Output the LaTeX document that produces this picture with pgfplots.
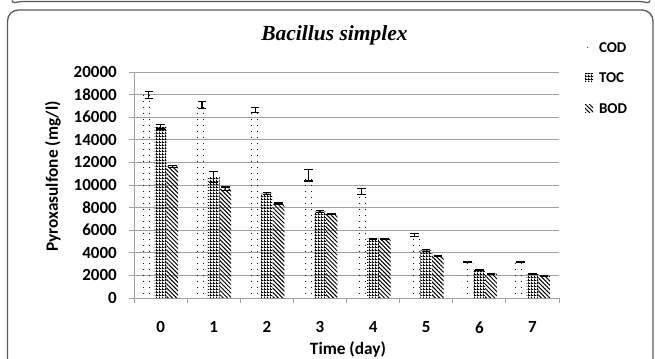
\documentclass[border=0pt]{standalone}
\usepackage{fontspec}
\setmainfont{Carlito}
\newfontfamily\titlefont{Liberation Serif}
\usepackage{pgfplots}
\pgfplotsset{compat=1.18}
\usetikzlibrary{patterns.meta}
\tikzdeclarepattern{name=checker, type=uncolored, bottom left={(0bp,0bp)}, top right={(3bp,3bp)}, tile size={(3bp,3bp)},
  code={\fill (0bp,0bp) rectangle (3bp,1.2bp); \fill (0bp,1.2bp) rectangle (1.2bp,3bp);}}
\definecolor{gridc}{RGB}{160,160,160}
\definecolor{framec}{RGB}{90,90,90}
\begin{document}
\begin{tikzpicture}
\useasboundingbox (-134bp,-61bp) rectangle (521bp,298bp);
\draw[framec, line width=1.3bp, rounded corners=11bp] (-126.5bp,-61bp) -- (-126.5bp,288bp) -- (519bp,288bp) -- (519bp,-61bp);
\draw[framec, line width=1.3bp] (-122bp,297.5bp) to[out=-90,in=180] (-112bp,296.5bp) -- (506bp,296.5bp) to[out=0,in=-90] (516bp,297.5bp);
\begin{axis}[
  at={(0,0)}, anchor=south west,
  scale only axis, width=425bp, height=226bp,
  xmin=-0.5, xmax=7.5, ymin=0, ymax=20000,
  ybar=0pt, bar width=0.22,
  every axis plot post/.append style={legend image code/.code={\fill[#1] (0bp,-4bp) rectangle (8bp,4bp);}},
  xtick={0,...,7}, xticklabels={0,1,2,3,4,5,6,7},
  major x tick style={draw=none},
  minor xtick={-0.5,0.5,...,7.5},
  ytick={0,2000,...,20000}, scaled y ticks=false,
  yticklabels={0,2000,4000,6000,8000,10000,12000,14000,16000,18000,20000},
  tick align=outside, major tick length=5bp, minor tick length=5bp,
  tick style={gridc, line width=0.8bp},
  ymajorgrids, grid style={gridc, line width=0.8bp},
  axis x line*=bottom, axis y line*=left,
  axis line style={gridc, line width=0.8bp, -},
  tick label style={font=\fontsize{17bp}{17bp}\selectfont\bfseries},
  yticklabel style={anchor=east, inner sep=0pt, xshift=-12bp},
  xticklabel style={anchor=north, inner sep=0pt, yshift=-18.5bp},
  xlabel={Time (day)},
  xlabel style={font=\fontsize{17.3bp}{17bp}\selectfont\bfseries, at={(rel axis cs:0.5035,-0.2279)}, anchor=center},
  ylabel={Pyroxasulfone (mg/l)},
  ylabel style={font=\fontsize{17.3bp}{17bp}\selectfont\bfseries, at={(rel axis cs:-0.1906,0.5376)}, anchor=center},
  title={Bacillus simplex},
  title style={font=\titlefont\bfseries\itshape\fontsize{21.5bp}{22bp}\selectfont, at={(rel axis cs:0.4718,1.1150)}, anchor=base, inner sep=0pt},
  legend style={at={(rel axis cs:1.0612,1.1327)}, anchor=north west, draw=none, fill=none, inner sep=0pt, outer sep=0pt,
    row sep=20.5bp, column sep=6bp, font=\fontsize{15bp}{15bp}\selectfont\bfseries,
    nodes={inner sep=0pt, text height=10bp, text depth=0pt}},
  legend cell align=left,
  error bars/y dir=both, error bars/y explicit,
  error bars/error bar style={draw=black, line width=1.2bp},
  error bars/error mark options={draw=black, rotate=90, mark size=4.3bp, line width=1.2bp},
]
\addplot[draw=none, fill=none, pattern={Dots[distance=6bp, radius=0.6bp]}] coordinates {
  (0,17950) +- (0,300)
  (1,17100) +- (0,300)
  (2,16650) +- (0,200)
  (3,10850) +- (0,500)
  (4,9420) +- (0,250)
  (5,5580) +- (0,150)
  (6,3210) +- (0,40)
  (7,3210) +- (0,40)
};
\addplot[draw=none, fill=none, pattern=checker] coordinates {
  (0,15150) +- (0,200)
  (1,10700) +- (0,500)
  (2,9230) +- (0,100)
  (3,7640) +- (0,80)
  (4,5250) +- (0,50)
  (5,4220) +- (0,100)
  (6,2500) +- (0,50)
  (7,2120) +- (0,50)
};
\addplot[draw=none, fill=none, pattern={Lines[angle=-45, distance=3bp, line width=1bp]}] coordinates {
  (0,11650) +- (0,100)
  (1,9680) +- (0,150)
  (2,8330) +- (0,80)
  (3,7460) +- (0,50)
  (4,5230) +- (0,50)
  (5,3720) +- (0,50)
  (6,2150) +- (0,50)
  (7,1970) +- (0,30)
};
\legend{COD,TOC,BOD}
\end{axis}
\end{tikzpicture}
\end{document}
